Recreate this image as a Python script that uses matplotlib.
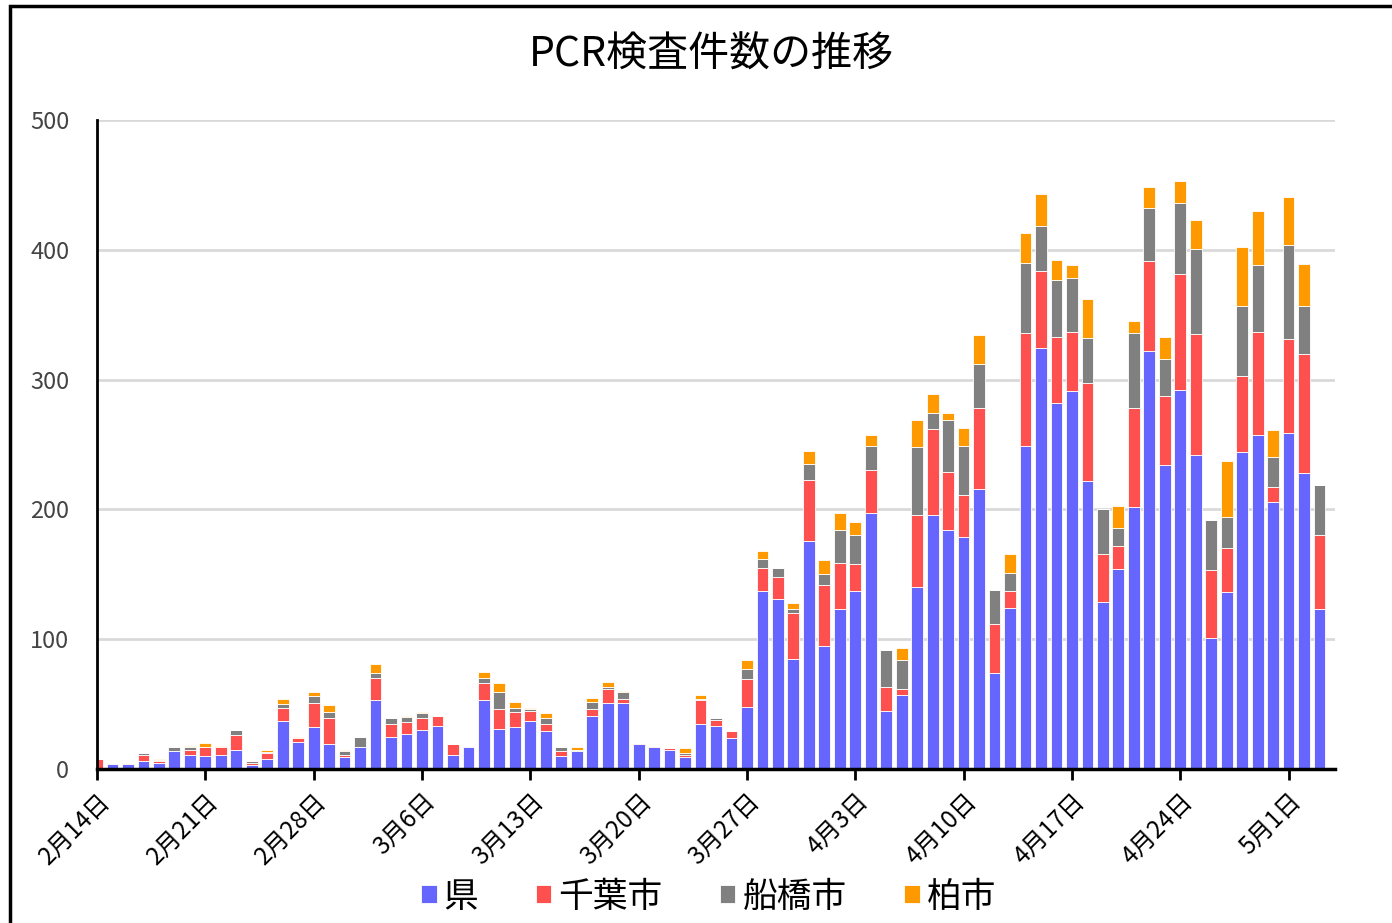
import numpy as np
import pandas as pd
import matplotlib
matplotlib.use('Agg')
import matplotlib.pyplot as plt
from matplotlib.patches import Rectangle

plt.rcParams['font.family'] = ['Noto Sans CJK JP', 'DejaVu Sans']

# daily PCR test counts, 2020-02-14 .. 2020-05-03
dates = pd.date_range('2020-02-14', '2020-05-03', freq='D')
series_names = ['県', '千葉市', '船橋市', '柏市']
series_colors = ['#6666ff', '#ff5050', '#808080', '#ff9900']

ken = [1, 4, 4, 6, 5, 14, 11, 10, 11, 15, 3, 8, 37, 21, 32, 19, 9, 17, 53, 25,
       27, 30, 33, 11, 17, 53, 31, 32, 37, 29, 10, 14, 41, 51, 51, 19, 17, 15, 9, 35,
       33, 24, 48, 137, 131, 85, 176, 95, 123, 137, 197, 45, 57, 140, 196, 184, 179, 216, 74, 124,
       249, 324, 282, 291, 222, 129, 154, 202, 322, 234, 292, 242, 101, 136, 244, 257, 206, 259, 228, 123]
chiba = [7, 0, 1, 5, 1, 0, 4, 7, 6, 11, 2, 4, 10, 3, 19, 20, 2, 0, 17, 10,
         9, 9, 8, 8, 0, 13, 15, 12, 8, 6, 4, 0, 5, 11, 3, 1, 1, 1, 2, 18,
         5, 5, 21, 18, 17, 35, 47, 47, 36, 21, 33, 18, 5, 56, 66, 45, 32, 62, 38, 13,
         87, 60, 51, 46, 75, 37, 18, 76, 69, 53, 89, 93, 52, 34, 59, 80, 11, 72, 92, 57]
funabashi = [0, 1, 0, 1, 1, 3, 2, 0, 0, 4, 1, 1, 3, 0, 5, 5, 3, 8, 4, 4,
             4, 4, 0, 0, 1, 4, 13, 3, 1, 4, 3, 1, 6, 1, 5, 0, 0, 0, 1, 1,
             1, 0, 8, 7, 7, 3, 12, 8, 25, 22, 19, 29, 22, 52, 12, 40, 38, 34, 26, 14,
             54, 34, 44, 41, 35, 34, 14, 58, 41, 29, 55, 66, 39, 24, 54, 51, 23, 73, 37, 39]
kashiwa = [0, 0, 0, 0, 1, 0, 1, 3, 1, 0, 0, 2, 4, 1, 3, 5, 1, 0, 7, 0,
           1, 1, 0, 0, 0, 5, 7, 5, 1, 4, 0, 2, 3, 4, 1, 0, 0, 0, 4, 3,
           0, 0, 7, 6, 0, 5, 10, 11, 13, 10, 8, 0, 9, 21, 15, 5, 14, 22, 0, 15,
           23, 25, 15, 10, 30, 0, 17, 9, 16, 17, 17, 22, 0, 43, 45, 42, 21, 37, 32, 0]

y_ticks = [0, 100, 200, 300, 400, 500]

fig = plt.figure(figsize=(13.92, 9.23), dpi=100)
ax = fig.add_axes([97 / 1392, 1 - 769 / 923, (1335 - 97) / 1392, (769 - 120) / 923])

x = np.arange(len(dates))
bottom = np.zeros(len(dates))
for name, color, values in zip(series_names, series_colors, [ken, chiba, funabashi, kashiwa]):
    values = np.array(values, dtype=float)
    ax.bar(x, values, width=0.76, bottom=bottom, color=color, edgecolor='white',
           linewidth=0.6, label=name, zorder=3)
    bottom += values

ax.set_xlim(0, 80)
ax.set_ylim(0, 500)
ax.set_yticks(y_ticks)
ax.set_yticklabels([str(v) for v in y_ticks], fontsize=17, color='#444444')
ax.tick_params(axis='y', length=0, pad=20)
ax.yaxis.grid(True, color='#d9d9d9', linewidth=2, zorder=0)

tick_idx = x[::7]
ax.set_xticks(tick_idx)
ax.set_xticklabels([f'{d.month}月{d.day}日' for d in dates[::7]], rotation=45,
                   ha='right', rotation_mode='anchor', fontsize=17.5)
ax.tick_params(axis='x', length=8, width=2, direction='out', pad=6)

for side in ['top', 'right']:
    ax.spines[side].set_visible(False)
ax.spines['left'].set_linewidth(2)
ax.spines['bottom'].set_linewidth(2.5)
ax.spines['left'].set_zorder(4)
ax.spines['bottom'].set_zorder(4)

fig.text(0.511, 1 - 55 / 923, 'PCR検査件数の推移', ha='center', va='center', fontsize=29.5)

fig.legend(loc='center', bbox_to_anchor=(0.509, 1 - 897 / 923), ncol=4, frameon=False,
           fontsize=25, handlelength=0.45, handleheight=0.45, handletextpad=0.2,
           columnspacing=1.65)

# outer frame of the original screenshot (only left and top edges are visible)
fig.add_artist(Rectangle((10 / 1392, -0.2), 1.5, 1.2 - 6 / 923, transform=fig.transFigure,
                         fill=False, edgecolor='black', linewidth=2.5))

fig.savefig('out.png', dpi=100)
